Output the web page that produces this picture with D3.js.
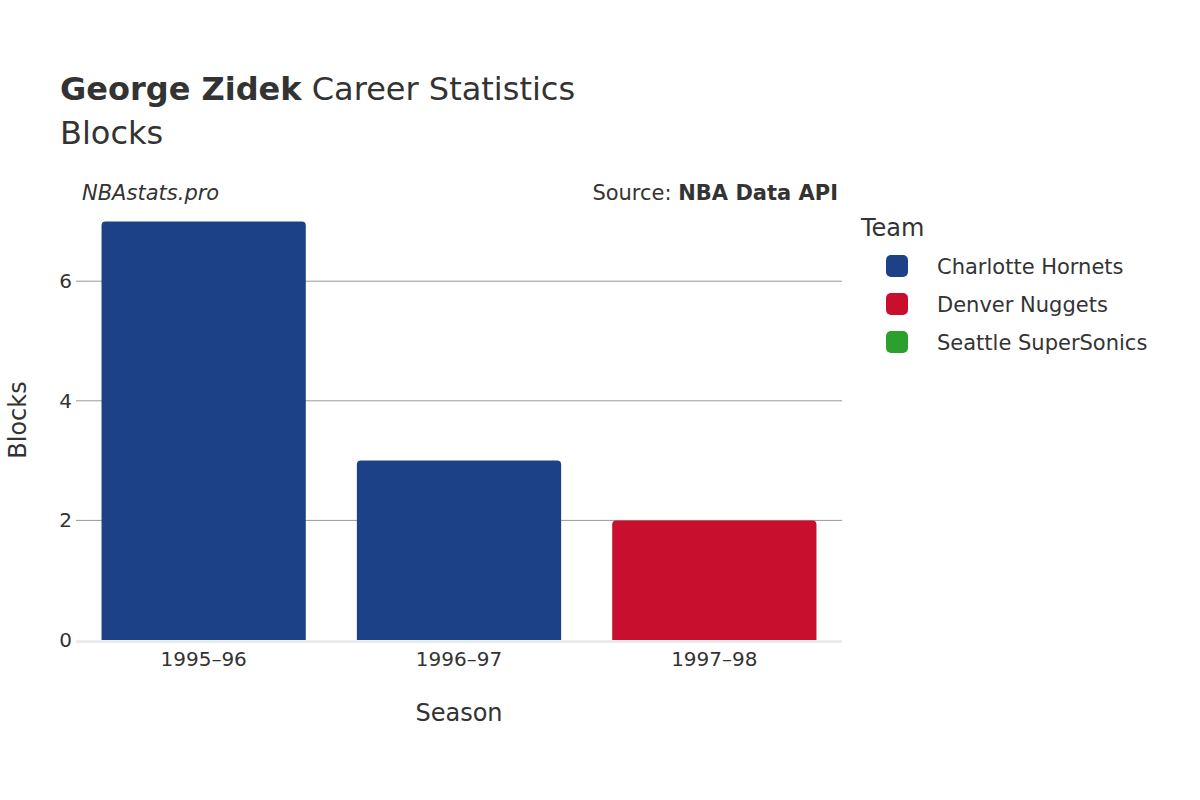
<!DOCTYPE html>
<html><head><meta charset="utf-8">
<script src="https://cdn.jsdelivr.net/npm/d3@7"></script>
<style>body{margin:0;background:#fff}text{font-family:"DejaVu Sans",sans-serif;fill:#333}</style>
</head><body><svg id="c" width="1200" height="800"></svg>
<script>
const seasons=["1995–96","1996–97","1997–98"];
const blocks=[7,3,2];
const barTeams=["Charlotte Hornets","Charlotte Hornets","Denver Nuggets"];
const teams=["Charlotte Hornets","Denver Nuggets","Seattle SuperSonics"];
const teamColors=["#1c4187","#c8102e","#2ca02c"];
const yTicks=[0,2,4,6];

const svg=d3.select("#c");
const x=d3.scaleBand().domain(seasons).range([76,842]).paddingInner(0.2).paddingOuter(0.1);
const y=d3.scaleLinear().domain([0,7]).range([640,221.4]);
const color=d3.scaleOrdinal().domain(teams).range(teamColors);

svg.append("g").selectAll("line").data(yTicks.filter(d=>d>0)).join("line")
 .attr("x1",76).attr("x2",842).attr("y1",d=>y(d)).attr("y2",d=>y(d)).attr("stroke","#999").attr("stroke-width",1);
svg.append("line").attr("x1",76).attr("x2",842).attr("y1",y(0)+1.5).attr("y2",y(0)+1.5).attr("stroke","#ebebeb").attr("stroke-width",3);

const r=4;
svg.append("g").selectAll("path").data(seasons).join("path")
 .attr("fill",(d,i)=>color(barTeams[i]))
 .attr("d",(d,i)=>{const x0=x(d),w=x.bandwidth(),t=y(blocks[i]),b=y(0);
   return `M${x0},${b}V${t+r}Q${x0},${t} ${x0+r},${t}H${x0+w-r}Q${x0+w},${t} ${x0+w},${t+r}V${b}Z`;});

svg.append("g").selectAll("text").data(yTicks).join("text")
 .attr("x",72).attr("y",d=>y(d)+7).attr("text-anchor","end").attr("font-size",20).text(d=>d);
svg.append("g").selectAll("text").data(seasons).join("text")
 .attr("x",d=>x(d)+x.bandwidth()/2).attr("y",666).attr("text-anchor","middle").attr("font-size",20).text(d=>d);

svg.append("text").attr("x",459).attr("y",721).attr("text-anchor","middle").attr("font-size",24).text("Season");
svg.append("text").attr("transform","translate(26,420) rotate(-90)").attr("text-anchor","middle").attr("font-size",24).text("Blocks");

const t=svg.append("text").attr("x",60).attr("y",100).attr("font-size",32);
t.append("tspan").attr("font-weight","bold").text("George Zidek");
t.append("tspan").text(" Career Statistics");
svg.append("text").attr("x",60).attr("y",144).attr("font-size",32).text("Blocks");

svg.append("text").attr("x",82).attr("y",200).attr("font-size",21).attr("font-style","italic").text("NBAstats.pro");
const s=svg.append("text").attr("x",838).attr("y",200).attr("font-size",21).attr("text-anchor","end");
s.append("tspan").text("Source: ");
s.append("tspan").attr("font-weight","bold").text("NBA Data API");

svg.append("text").attr("x",861).attr("y",236).attr("font-size",24).text("Team");
const lg=svg.append("g").selectAll("g").data(teams).join("g").attr("transform",(d,i)=>`translate(0,${266+i*38})`);
lg.append("rect").attr("x",886).attr("y",-11).attr("width",22).attr("height",22).attr("rx",5).attr("fill",d=>color(d));
lg.append("text").attr("x",937).attr("y",8).attr("font-size",21).text(d=>d);
</script></body></html>
